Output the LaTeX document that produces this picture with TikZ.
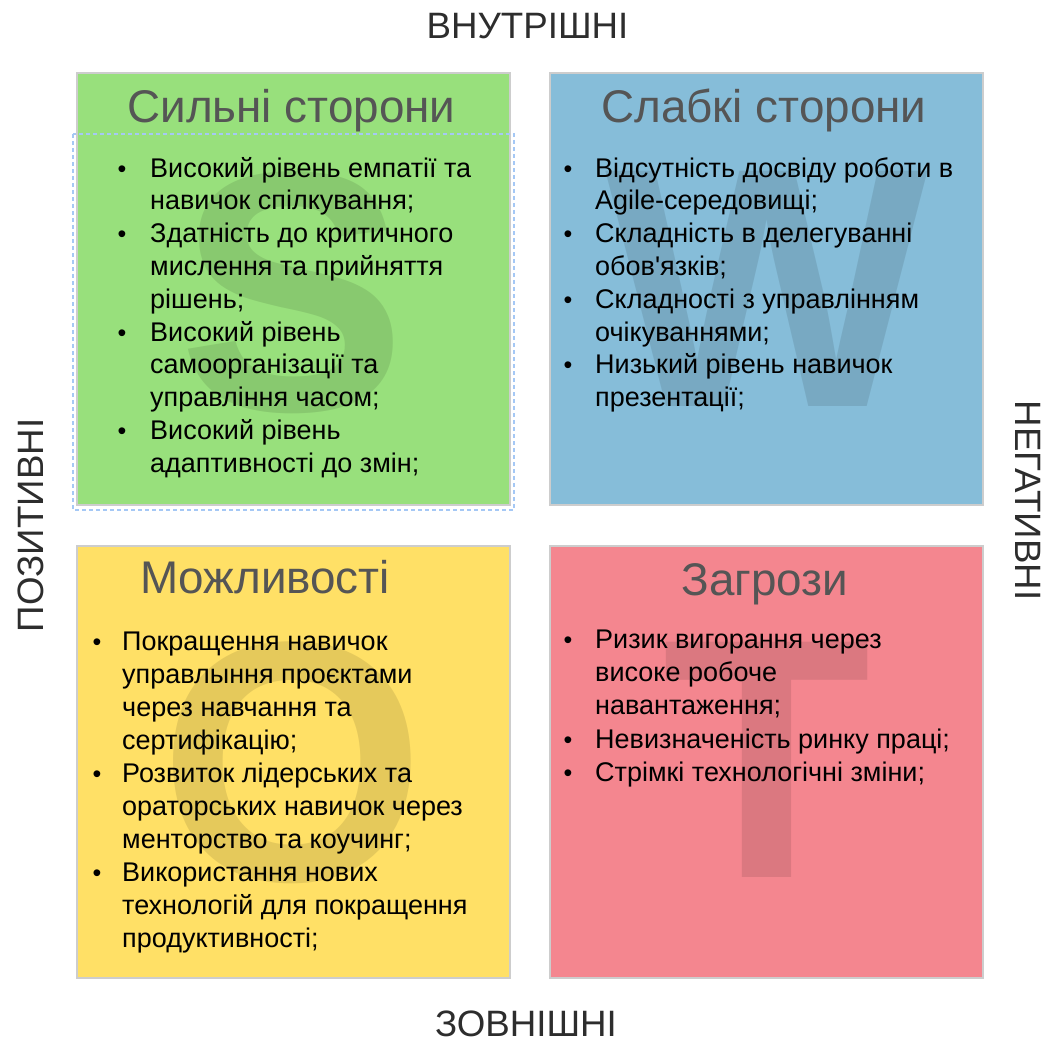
\documentclass[tikz,border=0pt]{standalone}
\usepackage{fontspec}
\newfontfamily\arial{Liberation Sans}
\usetikzlibrary{positioning}

\definecolor{sgreen}{RGB}{152,224,124}
\definecolor{wblue}{RGB}{134,189,217}
\definecolor{oyellow}{RGB}{255,224,102}
\definecolor{tred}{RGB}{244,134,143}
\definecolor{titlegray}{RGB}{85,85,85}
\definecolor{axisgray}{RGB}{45,45,45}
\definecolor{boxedge}{RGB}{205,205,205}
\definecolor{selblue}{RGB}{165,200,245}

\tikzset{
  quad/.style={draw=boxedge, line width=1.2pt, minimum width=433pt, minimum height=432pt, inner sep=0pt},
  mark letter/.style={font=\arial\bfseries\fontsize{342}{342}\selectfont, text=black, text opacity=0.1, inner sep=0pt},
  quad title/.style={font=\arial\fontsize{45.8}{46}\selectfont, text=titlegray, inner sep=0pt, anchor=base},
  body line/.style={font=\arial\fontsize{27}{33}\selectfont, text=black, inner sep=0pt, anchor=base west},
  dot/.style={font=\arial\fontsize{25}{33}\selectfont, text=black, inner sep=0pt, anchor=base},
  axis label/.style={font=\arial\fontsize{36.7}{37}\selectfont, text=axisgray, inner sep=0pt, anchor=base},
}

\begin{document}
\begin{tikzpicture}[x=1pt, y=-1pt]
\useasboundingbox (0,0) rectangle (1047,1041);

% quadrants
\node[quad, fill=sgreen]  (S) at (293.5,289) {};
\node[quad, fill=wblue]   (W) at (766.5,289) {};
\node[quad, fill=oyellow] (O) at (293.5,762) {};
\node[quad, fill=tred]    (T) at (766.5,762) {};

% selection frame around the strengths list
\draw[selblue, line width=1.2pt, dash pattern=on 4pt off 3pt] (73,134) rectangle (514,510);

% large background letters
\node[mark letter] (S-mark) at (293,293) {S};
\node[mark letter] (W-mark) at (767,289) {W};
\node[mark letter] (O-mark) at (293,763) {O};
\node[mark letter] (T-mark) at (767,760) {T};

% titles
\node[quad title] (S-title) at (291.5,122) {Сильні сторони};
\node[quad title] (W-title) at (764,122) {Слабкі сторони};
\node[quad title] (O-title) at (265,593) {Можливості};
\node[quad title] (T-title) at (765,595) {Загрози};

% strengths
\foreach \b/\t [count=\i from 0] in {
  1/{Високий рівень емпатії та},
  0/{навичок спілкування;},
  1/{Здатність до критичного},
  0/{мислення та прийняття},
  0/{рішень;},
  1/{Високий рівень},
  0/{самоорганізації та},
  0/{управління часом;},
  1/{Високий рівень},
  0/{адаптивності до змін;}}{
  \node[body line] (s-\i) at ({150},{177+32.8*\i}) {\t};
  \ifnum\b=1 \node[dot] (s-dot-\i) at ({122},{177+32.8*\i}) {•};\fi
}

% weaknesses
\foreach \b/\t [count=\i from 0] in {
  1/{Відсутність досвіду роботи в},
  0/{Agile-середовищі;},
  1/{Складність в делегуванні},
  0/{обов'язків;},
  1/{Складності з управлінням},
  0/{очікуваннями;},
  1/{Низький рівень навичок},
  0/{презентації;}}{
  \node[body line] (w-\i) at ({595},{177+32.8*\i}) {\t};
  \ifnum\b=1 \node[dot] (w-dot-\i) at ({568},{177+32.8*\i}) {•};\fi
}

% opportunities
\foreach \b/\t [count=\i from 0] in {
  1/{Покращення навичок},
  0/{управлыння проєктами},
  0/{через навчання та},
  0/{сертифікацію;},
  1/{Розвиток лідерських та},
  0/{ораторських навичок через},
  0/{менторство та коучинг;},
  1/{Використання нових},
  0/{технологій для покращення},
  0/{продуктивності;}}{
  \node[body line] (o-\i) at ({122},{650+33*\i}) {\t};
  \ifnum\b=1 \node[dot] (o-dot-\i) at ({97},{650+33*\i}) {•};\fi
}

% threats
\foreach \b/\t [count=\i from 0] in {
  1/{Ризик вигорання через},
  0/{високе робоче},
  0/{навантаження;},
  1/{Невизначеність ринку праці;},
  1/{Стрімкі технологічні зміни;}}{
  \node[body line] (t-\i) at ({595},{648+33.4*\i}) {\t};
  \ifnum\b=1 \node[dot] (t-dot-\i) at ({568},{648+33.4*\i}) {•};\fi
}

% axis labels
\node[axis label] (inner) at (527.5,39) {ВНУТРІШНІ};
\node[axis label] (outer) at (526,1036.5) {ЗОВНІШНІ};
\node[axis label, rotate=90] (pos) at (43,525.5) {ПОЗИТИВНІ};
\node[axis label, rotate=-90] (neg) at (1015,500.5) {НЕГАТИВНІ};
\end{tikzpicture}
\end{document}
